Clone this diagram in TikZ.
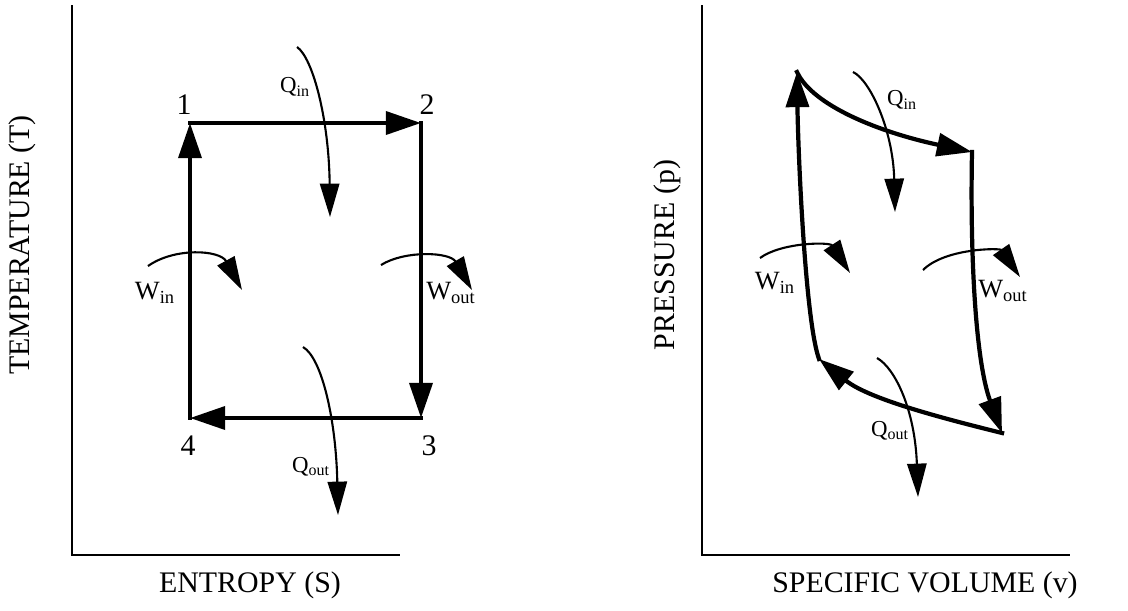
\documentclass[tikz,border=0pt]{standalone}
\usepackage{fontspec}
\setmainfont{Liberation Serif}
\usetikzlibrary{arrows.meta}

\begin{document}
\begin{tikzpicture}[x=0.02cm, y=-0.02cm,
    axisline/.style={line width=1.4pt},
    process/.style={line width=2.4pt, line cap=rect, -{Triangle[length=20pt,width=13pt]}},
    transfer/.style={line width=1.2pt, -{Triangle[length=19pt,width=11pt]}},
    axislabel/.style={font=\fontsize{17}{20}\selectfont},
    statelabel/.style={font=\fontsize{17}{20}\selectfont},
    heatlabel/.style={font=\fontsize{13}{15}\selectfont, inner sep=0pt},
    worklabel/.style={font=\fontsize{15}{17}\selectfont, inner sep=0pt}]
  \useasboundingbox (0,0) rectangle (1128,610);

  % T-S axes
  \coordinate (Ttop) at (72,5);
  \coordinate (Torigin) at (72,555);
  \coordinate (Send) at (400,555);
  \draw[axisline] (Ttop) -- (Torigin) -- (Send);
  \node[axislabel, rotate=90] (Tlabel) at (22,245) {TEMPERATURE (T)};
  \node[axislabel] (Slabel) at (250,585) {ENTROPY (S)};

  % T-S cycle
  \coordinate (s1) at (190,123);
  \coordinate (s2) at (421,123);
  \coordinate (s3) at (421,418);
  \coordinate (s4) at (190,418);
  \draw[process] (s4) -- (s1);
  \draw[process] (s1) -- (s2);
  \draw[process] (s2) -- (s3);
  \draw[process] (s3) -- (s4);
  \node[statelabel] (n1) at (184,105) {1};
  \node[statelabel] (n2) at (427,105) {2};
  \node[statelabel] (n3) at (429,446) {3};
  \node[statelabel] (n4) at (188,446) {4};

  % T-S heat and work
  \coordinate (sqin-a) at (297,47);
  \coordinate (sqin-b) at (330,217);
  \draw[transfer] (sqin-a) .. controls (313,58) and (329,120) .. (sqin-b);
  \coordinate (sqout-a) at (303,347);
  \coordinate (sqout-b) at (338,515);
  \draw[transfer] (sqout-a) .. controls (322,358) and (336,420) .. (sqout-b);
  \coordinate (swin-a) at (148,266);
  \coordinate (swin-b) at (242,290);
  \draw[transfer] (swin-a) .. controls (175,247) and (220,250) .. (swin-b);
  \coordinate (swout-a) at (381,265);
  \coordinate (swout-b) at (472,290);
  \draw[transfer] (swout-a) .. controls (405,250) and (450,252) .. (swout-b);
  \node[heatlabel] (sqin) at (295,87) {Q\textsubscript{in}};
  \node[heatlabel] (sqout) at (311,467) {Q\textsubscript{out}};
  \node[worklabel] (swin) at (155,293) {W\textsubscript{in}};
  \node[worklabel] (swout) at (451,293) {W\textsubscript{out}};

  % p-v axes
  \coordinate (Ptop) at (702,5);
  \coordinate (Porigin) at (702,555);
  \coordinate (Vend) at (1070,555);
  \draw[axisline] (Ptop) -- (Porigin) -- (Vend);
  \node[axislabel, rotate=90] (Plabel) at (667,255) {PRESSURE (p)};
  \node[axislabel] (Vlabel) at (925,585) {SPECIFIC VOLUME (v)};

  % p-v cycle
  \coordinate (v1) at (797,72);
  \coordinate (v2) at (972,152);
  \coordinate (v3) at (1002,433);
  \coordinate (v4) at (819,359);
  \draw[process] (v4) .. controls (805,320) and (798,150) .. (v1);
  \draw[process] (v1) .. controls (812,105) and (878,132) .. (v2);
  \draw[process] (v2) .. controls (970,250) and (975,360) .. (v3);
  \draw[process] (v3) .. controls (950,420) and (870,400) .. (v4);

  % p-v heat and work
  \coordinate (vqin-a) at (853,72);
  \coordinate (vqin-b) at (895,212);
  \draw[transfer] (vqin-a) .. controls (870,80) and (893,130) .. (vqin-b);
  \coordinate (vqout-a) at (877,358);
  \coordinate (vqout-b) at (918,497);
  \draw[transfer] (vqout-a) .. controls (895,368) and (915,410) .. (vqout-b);
  \coordinate (vwin-a) at (760,258);
  \coordinate (vwin-b) at (850,273);
  \draw[transfer] (vwin-a) .. controls (782,242) and (830,242) .. (vwin-b);
  \coordinate (vwout-a) at (923,270);
  \coordinate (vwout-b) at (1020,277);
  \draw[transfer] (vwout-a) .. controls (945,248) and (1000,248) .. (vwout-b);
  \node[heatlabel] (vqin) at (902,100) {Q\textsubscript{in}};
  \node[heatlabel] (vqout) at (890,431) {Q\textsubscript{out}};
  \node[worklabel] (vwin) at (775,283) {W\textsubscript{in}};
  \node[worklabel] (vwout) at (1003,291) {W\textsubscript{out}};

\end{tikzpicture}
\end{document}
